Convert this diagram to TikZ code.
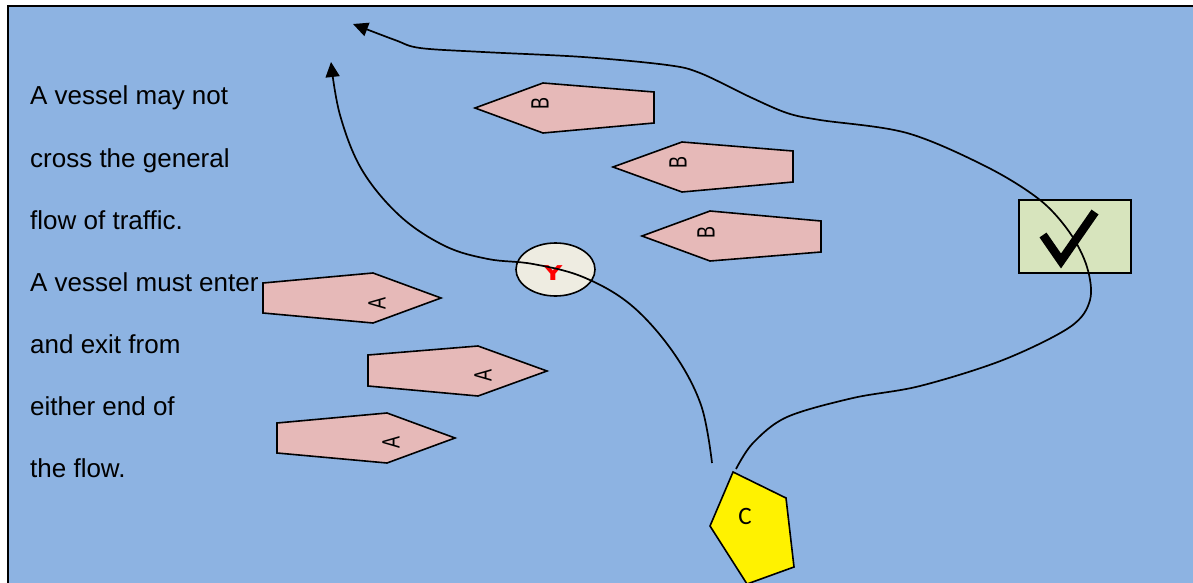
\documentclass[tikz,border=0pt]{standalone}
\usepackage{fontspec}
\setmainfont{Liberation Sans}
\newfontfamily\carlitofont{Carlito}
\newfontfamily\heavyfont{DejaVu Sans}
\usetikzlibrary{arrows.meta}
\definecolor{sea}{HTML}{8DB3E2}
\definecolor{shipfill}{HTML}{E6B9B8}
\definecolor{eggshell}{HTML}{EEECE1}
\definecolor{checkfill}{HTML}{D7E4BD}
\begin{document}
\begin{tikzpicture}[x=1pt,y=-1pt,
  ship/.style={draw=black,line width=1.6pt,fill=shipfill,line join=miter},
  shiplabel/.style={inner sep=0pt,rotate=90,font=\fontsize{25}{29}\selectfont},
  rule/.style={anchor=base west,inner sep=0pt,font=\fontsize{26}{31}\selectfont},
  route/.style={draw=black,line width=1.7pt,-{Triangle[length=15pt,width=14pt]}}]
\useasboundingbox (0,0) rectangle (1193,583);
\fill[white] (0,0) rectangle (1193,583);
\fill[sea] (8,6) rectangle (1193,583);
\draw[line width=2pt] (8,583) -- (8,6) -- (1193,6);

% rules text
\node[rule] (t1) at (30,105) {A vessel may not};
\node[rule] (t2) at (30,167) {cross the general};
\node[rule] (t3) at (30,229) {flow of traffic.};
\node[rule] (t4) at (30,291) {A vessel must enter};
\node[rule] (t5) at (30,353) {and exit from};
\node[rule] (t6) at (30,415) {either end of};
\node[rule] (t7) at (30,477) {the flow.};

% B ships
\draw[ship] (475,108) -- (543,83) -- (654,92) -- (654,123) -- (543,133) -- cycle;
\node[shiplabel] (b1) at (540,103) {\scalebox{0.72}[1]{B}};
\draw[ship] (613,167) -- (682,142) -- (793,151) -- (793,182) -- (682,192) -- cycle;
\node[shiplabel] (b2) at (678,162) {\scalebox{0.72}[1]{B}};
\draw[ship] (642,236) -- (710,211) -- (821,221) -- (821,252) -- (710,261) -- cycle;
\node[shiplabel] (b3) at (706,232) {\scalebox{0.72}[1]{B}};

% A ships
\draw[ship] (263,283) -- (373,273) -- (441,298) -- (373,323) -- (263,313) -- cycle;
\node[shiplabel] (a1) at (377,303) {\scalebox{0.72}[1]{A}};
\draw[ship] (368,355) -- (478,346) -- (547,371) -- (478,396) -- (368,386) -- cycle;
\node[shiplabel] (a2) at (483,375) {\scalebox{0.72}[1]{A}};
\draw[ship] (277,423) -- (387,413) -- (455,438) -- (387,463) -- (277,453) -- cycle;
\node[shiplabel] (a3) at (391,442) {\scalebox{0.72}[1]{A}};

% conflict ellipse
\draw[line width=1.6pt,fill=eggshell] (555.5,269.5) ellipse [x radius=39.5, y radius=26.5];
\node[inner sep=0pt,text=red,font=\heavyfont\fontsize{24}{28}\selectfont\bfseries] (y) at (553,273) {\scalebox{1.1}[0.85]{Y}};

% check box
\node[draw=black,line width=1.6pt,fill=checkfill,minimum width=112pt,minimum height=73pt,inner sep=0pt] (ok) at (1075,236.5) {};
\draw[line width=8.5pt,line join=miter] (1043,235) -- (1061,261) -- (1095,212);

% vessel C
\draw[line width=1.6pt,fill=yellow,line join=miter] (733,472) -- (786,498) -- (794,567) -- (747,584) -- (710,526) -- cycle;
\node[inner sep=0pt,font=\carlitofont\fontsize{25}{29}\selectfont] (c) at (745,516) {C};

% routes
\coordinate (r1s) at (712,463);
\coordinate (r1e) at (331,62);
\coordinate (r2s) at (736,469);
\coordinate (r2e) at (353,24);
\draw[route] plot[smooth,tension=0.6] coordinates {(r1s) (701,405) (673,352) (631,305) (583,277) (533,264) (488,259) (445,246) (400,216) (362,170) (340,115) (r1e)};
\draw[route] plot[smooth,tension=0.55] coordinates {(r2s) (753,443) (787,417) (853,398) (920,386) (1003,360) (1070,327) (1090,300) (1087,267) (1070,233) (1040,200) (987,167) (907,133) (820,120) (787,113) (750,97) (700,73) (667,65) (583,57) (483,52) (420,48) (395,40) (r2e)};
\end{tikzpicture}
\end{document}
